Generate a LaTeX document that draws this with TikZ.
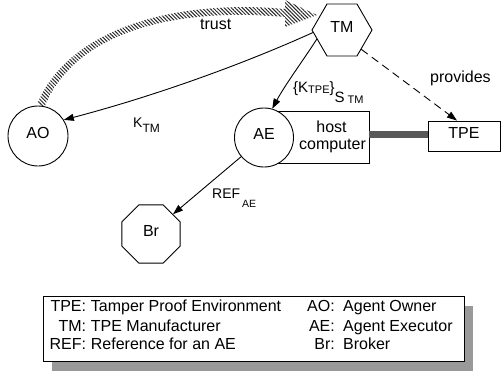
\documentclass[tikz,border=0pt]{standalone}
\usepackage{fontspec}
\setmainfont{Liberation Sans}
\usetikzlibrary{shapes.geometric,arrows.meta,patterns.meta,shadows}
\newcommand\mysubf{\fontsize{11}{11}\selectfont}
\newcommand\mylblf{\fontsize{14}{16}\selectfont}
\begin{document}
\begin{tikzpicture}[x=1pt,y=-1pt,
  every node/.style={font=\fontsize{16}{19}\selectfont},
  ln/.style={line width=0.9pt},
  lift/.style={text height=11.5pt,text depth=7pt},
  circ/.style={circle,draw,ln,fill=white,minimum size=#1,inner sep=0pt,lift},
  poly/.style={regular polygon,regular polygon sides=#1,draw,ln,fill=white,inner sep=0pt,lift},
  box/.style={rectangle,draw,ln,fill=white,inner sep=0pt},
  txt/.style={inner sep=0pt},
  arr/.style={ln,-{Triangle[length=10pt,width=7pt]}},
  link/.style={line width=7pt,black!65},
  trustfill/.style={pattern={Lines[angle=-45,distance=2.6pt,line width=1pt]},pattern color=black!85}
]
\useasboundingbox (0,0) rectangle (501,372);

% trust band (hatched wide arrow)
\fill[trustfill]
  (37.5,103.5) .. controls (68.5,28.5) and (175,-1) .. (285,9)
  -- (285,0) -- (317,15) -- (285,27) -- (285,17)
  .. controls (175,7) and (75.5,31.5) .. (44.5,106.7) -- cycle;
\node[txt,anchor=base west] (trust) at (200,30) {trust};

% nodes
\node[poly=6,minimum size=60pt] (TM) at (342,30) {TM};
\node[circ=60pt] (AO) at (38,136) {AO};
\node[box,minimum width=105pt,minimum height=52pt] (host) at (316.5,137) {};
\node[circ=59pt] (AE) at (264,137.5) {AE};
\node[txt,anchor=base] (hostt) at (331.5,132.7) {host};
\node[txt,anchor=base] (compt) at (332.5,149) {computer};
\node[box,lift,minimum width=72pt,minimum height=30pt] (TPE) at (464,136) {TPE};
\node[poly=8,minimum size=63pt] (Br) at (151,234) {Br};

% link host -- TPE
\coordinate (lk) at (0,134.5);
\draw[link] (host.east |- lk) -- (TPE.west |- lk);

% connectors
\draw[arr] (TM.185) .. controls (230,70) and (140,100) .. (AO.32);
\draw[arr] (TM.200) .. controls (302,62) and (285,85) .. (AE.74);
\draw[arr,dash pattern=on 8pt off 5pt] (TM.-45) -- ([xshift=-7pt]TPE.north);
\draw[arr] (AE.220) -- (Br.42);

% connector labels
\node[txt,anchor=base west,font=\mylblf] (ktm) at (133,127) {K\raisebox{-5pt}{\fontsize{12}{12}\selectfont TM}};
\node[txt,anchor=base west,font=\fontsize{15}{17}\selectfont] (ktpe) at (293,92)
  {\{K\raisebox{-1pt}{\mysubf TPE}\}\raisebox{-10pt}{S\hspace{3pt}\raisebox{-1pt}{\mysubf TM}}};
\node[txt,anchor=base west] (prov) at (430,82) {provides};
\node[txt,anchor=base west,font=\mylblf] (ref) at (212,198) {REF\hspace{2pt}\raisebox{-9pt}{\fontsize{10.5}{11}\selectfont AE}};

% legend
\node[box,minimum width=421pt,minimum height=65pt,
  drop shadow={shadow xshift=9pt,shadow yshift=-10pt,fill=black!40,opacity=1}] (legend) at (253.5,328.5) {};
\node[txt,anchor=base east] (k1) at (86.3,311.7) {TPE:};
\node[txt,anchor=base west] (v1) at (90.7,311.7) {Tamper Proof Environment};
\node[txt,anchor=base east] (k2) at (86.3,331) {TM:};
\node[txt,anchor=base west] (v2) at (90.7,331) {TPE Manufacturer};
\node[txt,anchor=base east] (k3) at (86.3,349) {REF:};
\node[txt,anchor=base west] (v3) at (90.7,349) {Reference for an AE};
\node[txt,anchor=base east] (k4) at (335,311.7) {AO:};
\node[txt,anchor=base west] (v4) at (343,311.7) {Agent Owner};
\node[txt,anchor=base east] (k5) at (335,331) {AE:};
\node[txt,anchor=base west] (v5) at (343,331) {Agent Executor};
\node[txt,anchor=base east] (k6) at (335,349) {Br:};
\node[txt,anchor=base west] (v6) at (343,349) {Broker};
\end{tikzpicture}
\end{document}
